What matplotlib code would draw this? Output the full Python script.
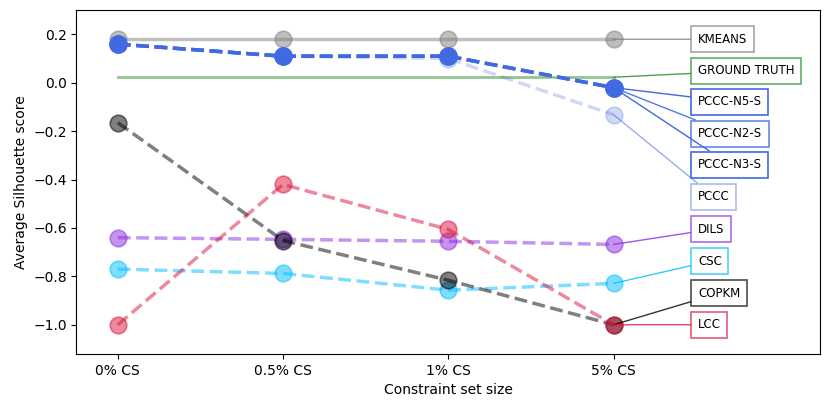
import matplotlib
matplotlib.use('Agg')
import matplotlib.pyplot as plt

cs_labels = ['0% CS', '0.5% CS', '1% CS', '5% CS']

kmeans = [0.18, 0.18, 0.18, 0.18]
ground_truth = [0.023, 0.023, 0.023, 0.023]
pccc_n5_s = [0.16, 0.11, 0.11, -0.02]
pccc_n2_s = [0.16, 0.11, 0.11, -0.02]
pccc_n3_s = [0.16, 0.11, 0.11, -0.02]
pccc = [0.16, 0.11, 0.10, -0.132]
dils = [-0.64, -0.647, -0.655, -0.668]
csc = [-0.77, -0.788, -0.857, -0.829]
copkm = [-0.165, -0.652, -0.816, -1.0]
lcc = [-1.0, -0.42, -0.606, -1.0]

label_y = [0.18, 0.05, -0.078, -0.21, -0.338, -0.47, -0.606, -0.738, -0.87, -1.0]

x = list(range(len(cs_labels)))

fig, ax = plt.subplots(figsize=(8.31, 4.09), dpi=100)

# name, values, color, alpha, linestyle, markers
series = [
    ('KMEANS', kmeans, 'gray', 0.5, '-', True),
    ('GROUND TRUTH', ground_truth, 'forestgreen', 0.5, '-', False),
    ('PCCC-N5-S', pccc_n5_s, 'royalblue', 1.0, '--', True),
    ('PCCC-N2-S', pccc_n2_s, 'royalblue', 0.6, '--', True),
    ('PCCC-N3-S', pccc_n3_s, 'royalblue', 0.9, '--', True),
    ('PCCC', pccc, 'royalblue', 0.25, '--', True),
    ('DILS', dils, 'blueviolet', 0.5, '--', True),
    ('CSC', csc, 'deepskyblue', 0.5, '--', True),
    ('COPKM', copkm, 'black', 0.5, '--', True),
    ('LCC', lcc, 'crimson', 0.5, '--', True),
]

for (name, vals, col, a, ls, mk), ly in zip(series, label_y):
    if mk:
        ax.plot(x, vals, ls, color=col, alpha=a, lw=2.5,
                marker='o', markersize=12, markeredgewidth=1.2)
    else:
        ax.plot(x, vals, ls, color=col, alpha=a, lw=2)
    ax.annotate(name, xy=(x[-1], vals[-1]), xytext=(3.51, ly),
                fontsize=8.5, va='center', ha='left',
                bbox=dict(boxstyle='square,pad=0.55', fc='white',
                          ec=col, alpha=min(1.0, a + 0.2), lw=1.2),
                arrowprops=dict(arrowstyle='-', color=col,
                                alpha=min(1.0, a + 0.3), lw=1,
                                shrinkA=0, shrinkB=0))

ax.set_xticks(x)
ax.set_xticklabels(cs_labels)
ax.set_xlim(-0.25, 4.25)
ax.set_ylim(-1.12, 0.3)
ax.set_xlabel('Constraint set size')
ax.set_ylabel('Average Silhouette score')

plt.subplots_adjust(left=0.092, right=0.987, top=0.975, bottom=0.135)
plt.savefig('out.png')
